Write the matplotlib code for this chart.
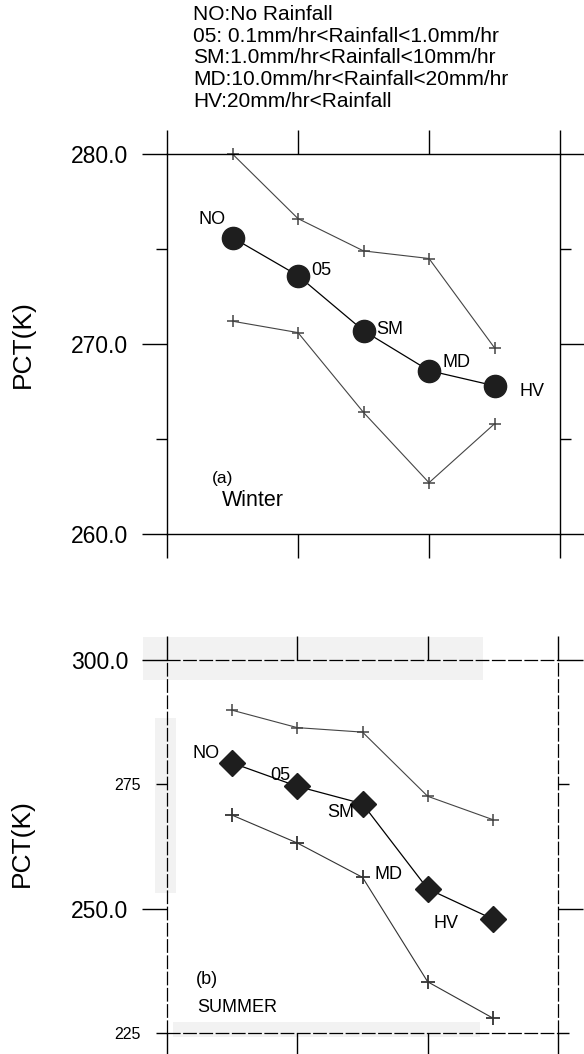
import matplotlib
matplotlib.use("Agg")
import matplotlib.pyplot as plt
from matplotlib.patches import Rectangle

plt.rcParams['font.family'] = ['Liberation Sans', 'DejaVu Sans']

# datos
categorias = ["NO", "05", "SM", "MD", "HV"]
posx = [0.5, 1.0, 1.5, 2.0, 2.5]

invierno_media = [275.6, 273.6, 270.7, 268.6, 267.8]
invierno_sup = [280.0, 276.6, 274.9, 274.5, 269.8]
invierno_inf = [271.2, 270.6, 266.4, 262.7, 265.8]

verano_media = [279.3, 274.6, 271.1, 254.0, 247.9]
verano_sup = [289.9, 286.4, 285.5, 272.6, 267.9]
verano_inf = [268.8, 263.2, 256.3, 235.3, 228.0]

leyenda = ["NO:No Rainfall",
           "05: 0.1mm/hr<Rainfall<1.0mm/hr",
           "SM:1.0mm/hr<Rainfall<10mm/hr",
           "MD:10.0mm/hr<Rainfall<20mm/hr",
           "HV:20mm/hr<Rainfall"]

W, H = 584, 1054
fig = plt.figure(figsize=(W / 100, H / 100), dpi=100)


def px(x, y):
    return x / W, 1 - y / H


def caja(l, t, r, b):
    return [l / W, 1 - b / H, (r - l) / W, (b - t) / H]


# manchas grises del escaneo (panel b)
for (x0, y0, x1, y1) in [(143, 637, 483, 680), (155, 718, 176, 893), (173, 1022, 480, 1037)]:
    fig.add_artist(Rectangle(px(x0, y1), (x1 - x0) / W, (y1 - y0) / H,
                             transform=fig.transFigure, color='#f2f2f2', zorder=-5, lw=0))

ax1 = fig.add_axes(caja(167, 154, 560, 534))
ax2 = fig.add_axes(caja(167, 660, 558, 1033))


def preparar(ax):
    ax.set_facecolor('none')
    ax.set_xlim(0, 3)
    ax.set_xticks([0, 1, 2, 3])
    ax.set_xticklabels([])
    ax.tick_params(axis='x', which='major', top=True, bottom=True, direction='out',
                   length=17, width=1)
    for s in ax.spines.values():
        s.set_linewidth(1)


# panel (a) invierno
preparar(ax1)
ax1.set_ylim(260, 280)
ax1.set_yticks([260, 270, 280])
ax1.set_yticklabels(["260.0", "270.0", "280.0"])
ax1.set_yticks([265, 275], minor=True)
ax1.tick_params(axis='y', which='major', left=True, right=True, direction='out',
                length=18, width=1, labelsize=16.5, pad=10)
ax1.tick_params(axis='y', which='minor', left=True, right=True, direction='out',
                length=8, width=1)

ax1.plot(posx, invierno_sup, color='#444444', lw=0.8, marker='+', ms=9, mew=1.1, clip_on=False)
ax1.plot(posx, invierno_inf, color='#444444', lw=0.8, marker='+', ms=9, mew=1.1, clip_on=False)
ax1.plot(posx, invierno_media, color='black', lw=0.9, marker='o', ms=16,
         mfc='#1e1e1e', mec='#1e1e1e', clip_on=False)

offs_a = [(-15, 13), (17, 4), (19, 1), (20, 6), (27, -4)]
for c, x, y, o in zip(categorias, posx, invierno_media, offs_a):
    ax1.annotate(c, (x, y), xytext=o, textcoords='offset points',
                 ha='center', va='center', fontsize=13)

ax1.set_ylabel("PCT(K)", fontsize=19)
ax1.yaxis.set_label_coords(-0.336, 0.50)

# panel (b) verano
preparar(ax2)
ax2.set_ylim(225, 300)
ax2.set_yticks([250, 300])
ax2.set_yticklabels(["250.0", "300.0"])
ax2.set_yticks([225, 275], minor=True)
ax2.set_yticklabels(["225", "275"], minor=True)
ax2.tick_params(axis='y', which='major', left=True, right=True, direction='out',
                length=18, width=1, labelsize=16.5, pad=10)
ax2.tick_params(axis='y', which='minor', left=True, right=True, direction='out',
                length=8, width=1, labelsize=11.5, pad=11)
for s in ax2.spines.values():
    s.set_linestyle((0, (10, 3)))
    s.set_linewidth(0.9)

ax2.plot(posx, verano_sup, color='#444444', lw=0.8, marker='+', ms=9, mew=1.1, clip_on=False)
ax2.plot(posx, verano_inf, color='#333333', lw=0.8, marker='+', ms=10, mew=1.3, clip_on=False)
ax2.plot(posx, verano_media, color='black', lw=0.9, marker='D', ms=13,
         mfc='#1e1e1e', mec='#1e1e1e', clip_on=False)

offs_b = [(-19, 7), (-12, 8), (-16, -6), (-28, 10), (-34, -3)]
for c, x, y, o in zip(categorias, posx, verano_media, offs_b):
    ax2.annotate(c, (x, y), xytext=o, textcoords='offset points',
                 ha='center', va='center', fontsize=13)

ax2.set_ylabel("PCT(K)", fontsize=19)
ax2.yaxis.set_label_coords(-0.34, 0.51)

# textos de los paneles
fig.text(*px(223, 478), "(a)", ha='center', va='center', fontsize=12.5)
fig.text(*px(253, 500), "Winter", ha='center', va='center', fontsize=15.5)
fig.text(*px(207, 980), "(b)", ha='center', va='center', fontsize=13)
fig.text(*px(237, 1008), "SUMMER", ha='center', va='center', fontsize=13)

# leyenda de categorias
fig.text(*px(193, 5), "\n".join(leyenda), ha='left', va='top', fontsize=15,
         linespacing=1.18)

fig.savefig("out.png", dpi=100)
